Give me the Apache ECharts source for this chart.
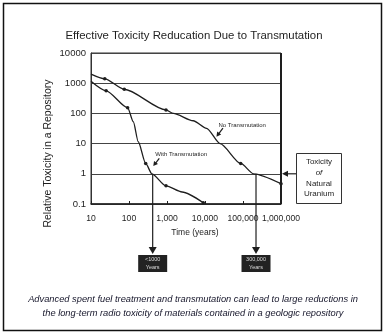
<!DOCTYPE html>
<html><head><meta charset="utf-8">
<script src="https://cdn.jsdelivr.net/npm/echarts@6/dist/echarts.min.js"></script>
<style>html,body{margin:0;padding:0;background:#fff}#c{width:386px;height:334px}</style>
</head><body><div id="c"></div>
<script>
// ---- data ----
const titleText = 'Effective Toxicity Reducation Due to Transmutation';
const xName = 'Time (years)';
const yName = 'Relative Toxicity in a Repository';
const xMin = 10, xMax = 1000000;
const yMin = 0.1, yMax = 10000;

const noTransX = [10, 23, 75, 940, 1470, 4900, 11000, 25000, 87000, 190000, 1000000];
const noTransY = [2000, 1400, 630, 130, 100, 57, 32, 10, 2.2, 1, 0.47];
const noTransMarked = [1, 2, 3, 8, 10];

const withTransX = [10, 25, 92, 130, 175, 275, 400, 940, 2500, 9000];
const withTransY = [1150, 560, 155, 53, 11.5, 2.2, 1, 0.4, 0.25, 0.11];
const withTransMarked = [1, 2, 5, 7, 9];

const noTransLabel = 'No Transmutation';
const withTransLabel = 'With Transmutation';
const naturalUraniumLevel = 1;
const uraniumBoxLines = ['Toxicity', 'of', 'Natural', 'Uranium'];
const dropYears = [420, 220000];
const dropBoxLines = [['<1000', 'Years'], ['300,000', 'Years']];
const captionLines = [
  'Advanced spent fuel treatment and transmutation can lead to large reductions in',
  'the long-term radio toxicity of materials contained in a geologic repository'
];

// ---- chart ----
const FONT = '"Liberation Sans", Arial, sans-serif';
const INK = '#1e1e1e';
const chart = echarts.init(document.getElementById('c'));
const zip = (xs, ys) => xs.map((x, i) => [x, ys[i]]);
const fmtY = v => v >= 1 ? String(Math.round(v)) : String(+(+v).toPrecision(1));

function lineSeries(name, xs, ys, marked) {
  return {
    name, type: 'line', data: zip(xs, ys), smooth: 0.25, smoothMonotone: 'x',
    symbol: 'circle',
    symbolSize: (v, p) => marked.includes(p.dataIndex) ? 3.5 : 0,
    showAllSymbol: true,
    lineStyle: { color: INK, width: 1.3 },
    itemStyle: { color: INK },
    z: 5
  };
}

chart.setOption({
  animation: false,
  backgroundColor: '#fff',
  title: {
    text: titleText, left: 189, top: 25, textAlign: 'center',
    textStyle: { fontSize: 11.4, fontWeight: 'normal', color: INK, fontFamily: FONT }
  },
  grid: { left: 91, right: 105, top: 53, bottom: 130, show: true, borderColor: '#333', borderWidth: 1 },
  xAxis: {
    type: 'log', logBase: 10, min: xMin, max: xMax,
    axisLine: { lineStyle: { color: INK, width: 1.5 } },
    axisTick: { inside: true, length: 3, lineStyle: { color: INK } },
    axisLabel: { formatter: v => Math.round(v).toLocaleString('en-US'), fontSize: 8.6, color: INK, fontFamily: FONT, margin: 10, hideOverlap: false, showMaxLabel: true, showMinLabel: true },
    splitLine: { show: false },
    name: xName, nameLocation: 'middle', nameGap: 24,
    nameTextStyle: { fontSize: 8.5, color: INK, fontFamily: FONT, padding: [0, 0, 0, 18] }
  },
  yAxis: {
    type: 'log', logBase: 10, min: yMin, max: yMax,
    axisLine: { show: true, lineStyle: { color: '#333', width: 1 } },
    axisTick: { show: false },
    axisLabel: { formatter: fmtY, fontSize: 9.5, color: INK, fontFamily: FONT, margin: 5 },
    splitLine: { show: true, lineStyle: { color: '#444', width: 1 } },
    name: yName, nameLocation: 'middle', nameGap: 37,
    nameTextStyle: { fontSize: 10.5, color: INK, fontFamily: FONT, padding: [0, 50, 0, 0] }
  },
  series: [
    lineSeries(noTransLabel, noTransX, noTransY, noTransMarked),
    lineSeries(withTransLabel, withTransX, withTransY, withTransMarked)
  ]
});

// ---- annotations ----
const px = (x, y) => chart.convertToPixel({ gridIndex: 0 }, [x, y]);
const g = [];
const arrowHead = (tail, tip, len, half) => {
  const dx = tip[0] - tail[0], dy = tip[1] - tail[1];
  const L = Math.hypot(dx, dy), ux = dx / L, uy = dy / L;
  const bx = tip[0] - ux * len, by = tip[1] - uy * len;
  return { type: 'polygon', shape: { points: [tip, [bx - uy * half, by + ux * half], [bx + uy * half, by - ux * half]] }, style: { fill: INK }, z: 20 };
};
const seg = (a, b, w) => ({ type: 'line', shape: { x1: a[0], y1: a[1], x2: b[0], y2: b[1] }, style: { stroke: INK, lineWidth: w || 1 }, z: 20 });

const tl = px(xMin, yMax), br = px(xMax, yMin);
// thick right frame
g.push(seg([br[0], tl[1]], [br[0], br[1]], 2));

// drop arrows + black boxes
dropYears.forEach((yr, i) => {
  const p = px(yr, naturalUraniumLevel);
  const bottomY = br[1] + 48;
  g.push(seg([p[0], p[1]], [p[0], bottomY - 4], 1.2));
  g.push(arrowHead([p[0], p[1]], [p[0], bottomY + 2], 7, 4));
  g.push({ type: 'rect', shape: { x: p[0] - 14.5, y: bottomY + 3, width: 29, height: 17 }, style: { fill: '#222' }, z: 20 });
  dropBoxLines[i].forEach((t, j) => g.push({
    type: 'text', style: { text: t, x: p[0], y: bottomY + 7.5 + j * 8, align: 'center', verticalAlign: 'middle', fill: '#ddd', font: '5.5px ' + FONT }, z: 21
  }));
});

// natural uranium box
const uy = px(xMax, naturalUraniumLevel)[1];
const bxL = br[0] + 15, bxW = 45;
g.push({ type: 'rect', shape: { x: bxL + 0.5, y: 153.5, width: bxW, height: 50 }, style: { fill: '#fff', stroke: '#333', lineWidth: 1 }, z: 20 });
uraniumBoxLines.forEach((t, j) => g.push({
  type: 'text', style: { text: t, x: bxL + bxW / 2 + 0.5, y: 162 + j * 10.7, align: 'center', verticalAlign: 'middle', fill: INK, font: (j === 1 ? 'italic ' : '') + '8px ' + FONT }, z: 21
}));
g.push(seg([bxL, uy], [br[0] + 6, uy], 1.2));
g.push(arrowHead([bxL, uy], [br[0] + 1, uy], 6, 3));

// curve labels
const ntTip = px(20000, 17);
g.push({ type: 'text', style: { text: noTransLabel, x: ntTip[0] + 2, y: ntTip[1] - 11.5, align: 'left', verticalAlign: 'middle', fill: INK, font: '6px ' + FONT }, z: 21 });
g.push(seg([ntTip[0] + 6.5, ntTip[1] - 8.5], [ntTip[0] + 2, ntTip[1] - 2.5], 1.2));
g.push(arrowHead([ntTip[0] + 6.5, ntTip[1] - 8.5], ntTip, 4.5, 2.5));

const wtTip = px(435, 1.8);
g.push({ type: 'text', style: { text: withTransLabel, x: wtTip[0] + 2, y: wtTip[1] - 12, align: 'left', verticalAlign: 'middle', fill: INK, font: '6px ' + FONT }, z: 21 });
g.push(seg([wtTip[0] + 6, wtTip[1] - 7.7], [wtTip[0] + 2, wtTip[1] - 2.5], 1.2));
g.push(arrowHead([wtTip[0] + 6, wtTip[1] - 7.7], wtTip, 4.5, 2.5));

// caption
captionLines.forEach((t, j) => g.push({
  type: 'text', style: { text: t, x: 193, y: 299 + j * 14, align: 'center', verticalAlign: 'middle', fill: '#15152a', font: 'italic 9.3px ' + FONT }, z: 21
}));

// outer frame
g.push({ type: 'rect', shape: { x: 3.5, y: 3.5, width: 378, height: 327 }, style: { fill: 'none', stroke: '#111', lineWidth: 1.5 }, z: 1 });

chart.setOption({ graphic: g });
</script>
</body></html>
